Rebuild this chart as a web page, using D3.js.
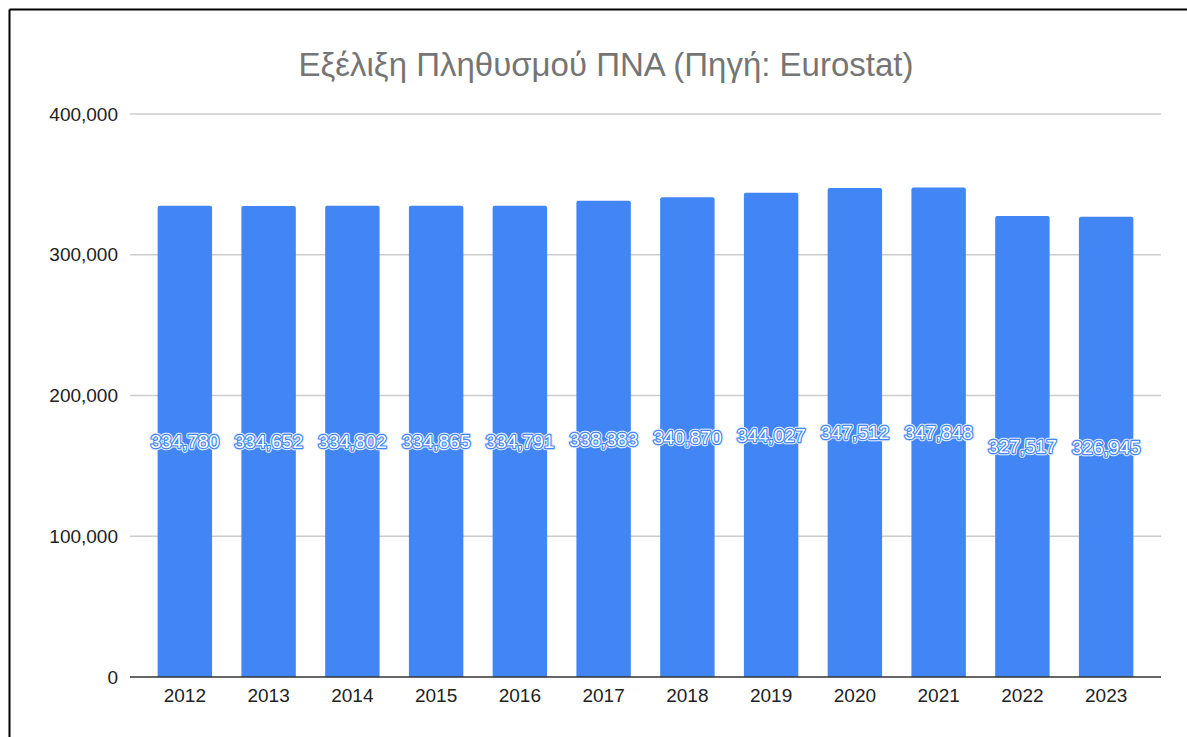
<!DOCTYPE html>
<html>
<head>
<meta charset="utf-8">
<script src="https://cdn.jsdelivr.net/npm/d3@7"></script>
<style>
  body { margin: 0; background: #fff; }
  svg { display: block; font-family: Arial, "Liberation Sans", sans-serif; }
</style>
</head>
<body>
<svg id="chart"></svg>
<script>
// data
var years = ["2012", "2013", "2014", "2015", "2016", "2017", "2018", "2019", "2020", "2021", "2022", "2023"];
var population = [334780, 334652, 334802, 334865, 334791, 338383, 340870, 344027, 347512, 347848, 327517, 326945];
var yTicks = [0, 100000, 200000, 300000, 400000];
var title = "Εξέλιξη Πληθυσμού ΠΝΑ (Πηγή: Eurostat)";

var width = 1187, height = 737;
var margins = { top: 114, bottom: 60, left: 130, right: 26 };

var svg = d3.select("#chart").attr("width", width).attr("height", height);

// frame, only top and left edges visible in the crop
svg.append("line").attr("x1", 9.5).attr("x2", width).attr("y1", 9.5).attr("y2", 9.5)
  .attr("stroke", "#000").attr("stroke-width", 2);
svg.append("line").attr("x1", 9.5).attr("x2", 9.5).attr("y1", 9.5).attr("y2", height)
  .attr("stroke", "#000").attr("stroke-width", 2);

svg.append("text")
  .attr("x", 606).attr("y", 76)
  .attr("text-anchor", "middle")
  .attr("font-size", 33)
  .attr("fill", "#757575")
  .text(title);

var xScale = d3.scaleBand()
  .domain(years)
  .range([margins.left, width - margins.right])
  .paddingInner(0.35)
  .paddingOuter(0.33);

var yScale = d3.scaleLinear()
  .domain([0, 400000])
  .range([677, margins.top]);

var fmt = d3.format(",");

// gridlines
svg.append("g").selectAll("line")
  .data(yTicks.filter(function(d){ return d > 0; }))
  .enter().append("line")
  .attr("x1", margins.left).attr("x2", width - margins.right)
  .attr("y1", function(d){ return yScale(d); })
  .attr("y2", function(d){ return yScale(d); })
  .attr("stroke", "#cccccc").attr("stroke-width", 1.5);

// y axis labels
var yAxis = d3.axisLeft(yScale).tickValues(yTicks).tickFormat(fmt).tickSize(0).tickPadding(12);
var yg = svg.append("g").attr("transform", "translate(" + margins.left + ",0)").call(yAxis);
yg.select(".domain").remove();
yg.selectAll("text").attr("font-size", 19).attr("fill", "#222").attr("font-family", "Arial, 'Liberation Sans', sans-serif");

// bars, slightly rounded top corners
var r = 2;
svg.append("g").selectAll("path")
  .data(population)
  .enter().append("path")
  .attr("d", function(d, i){
    var x = xScale(years[i]), w = xScale.bandwidth(), y = yScale(d), y0 = yScale(0);
    return "M" + x + "," + y0 + "V" + (y + r) + "Q" + x + "," + y + " " + (x + r) + "," + y +
      "H" + (x + w - r) + "Q" + (x + w) + "," + y + " " + (x + w) + "," + (y + r) + "V" + y0 + "Z";
  })
  .attr("fill", "#4285f4");

// baseline
svg.append("line")
  .attr("x1", margins.left).attr("x2", width - margins.right)
  .attr("y1", yScale(0)).attr("y2", yScale(0))
  .attr("stroke", "#333").attr("stroke-width", 1.5);

// x axis labels
var xAxis = d3.axisBottom(xScale).tickSize(0).tickPadding(12);
var xg = svg.append("g").attr("transform", "translate(0," + yScale(0) + ")").call(xAxis);
xg.select(".domain").remove();
xg.selectAll("text").attr("font-size", 19).attr("fill", "#222").attr("font-family", "Arial, 'Liberation Sans', sans-serif");

// value labels in the middle of each bar
var labels = svg.append("g").selectAll("g")
  .data(population)
  .enter().append("g")
  .attr("transform", function(d, i){
    return "translate(" + (xScale(years[i]) + xScale.bandwidth() / 2) + "," + ((yScale(d) + yScale(0)) / 2) + ")";
  });

labels.append("text")
  .attr("text-anchor", "middle").attr("dy", "0.35em")
  .attr("font-size", 19)
  .attr("fill", "#fff").attr("stroke", "#e8f0fe").attr("stroke-width", 4.5)
  .attr("stroke-linejoin", "round")
  .text(function(d){ return fmt(d); });

labels.append("text")
  .attr("text-anchor", "middle").attr("dy", "0.35em")
  .attr("font-size", 19)
  .attr("fill", "#fff").attr("stroke", "#4285f4").attr("stroke-width", 2.4)
  .attr("stroke-linejoin", "round")
  .style("paint-order", "stroke fill")
  .text(function(d){ return fmt(d); });
</script>
</body>
</html>
